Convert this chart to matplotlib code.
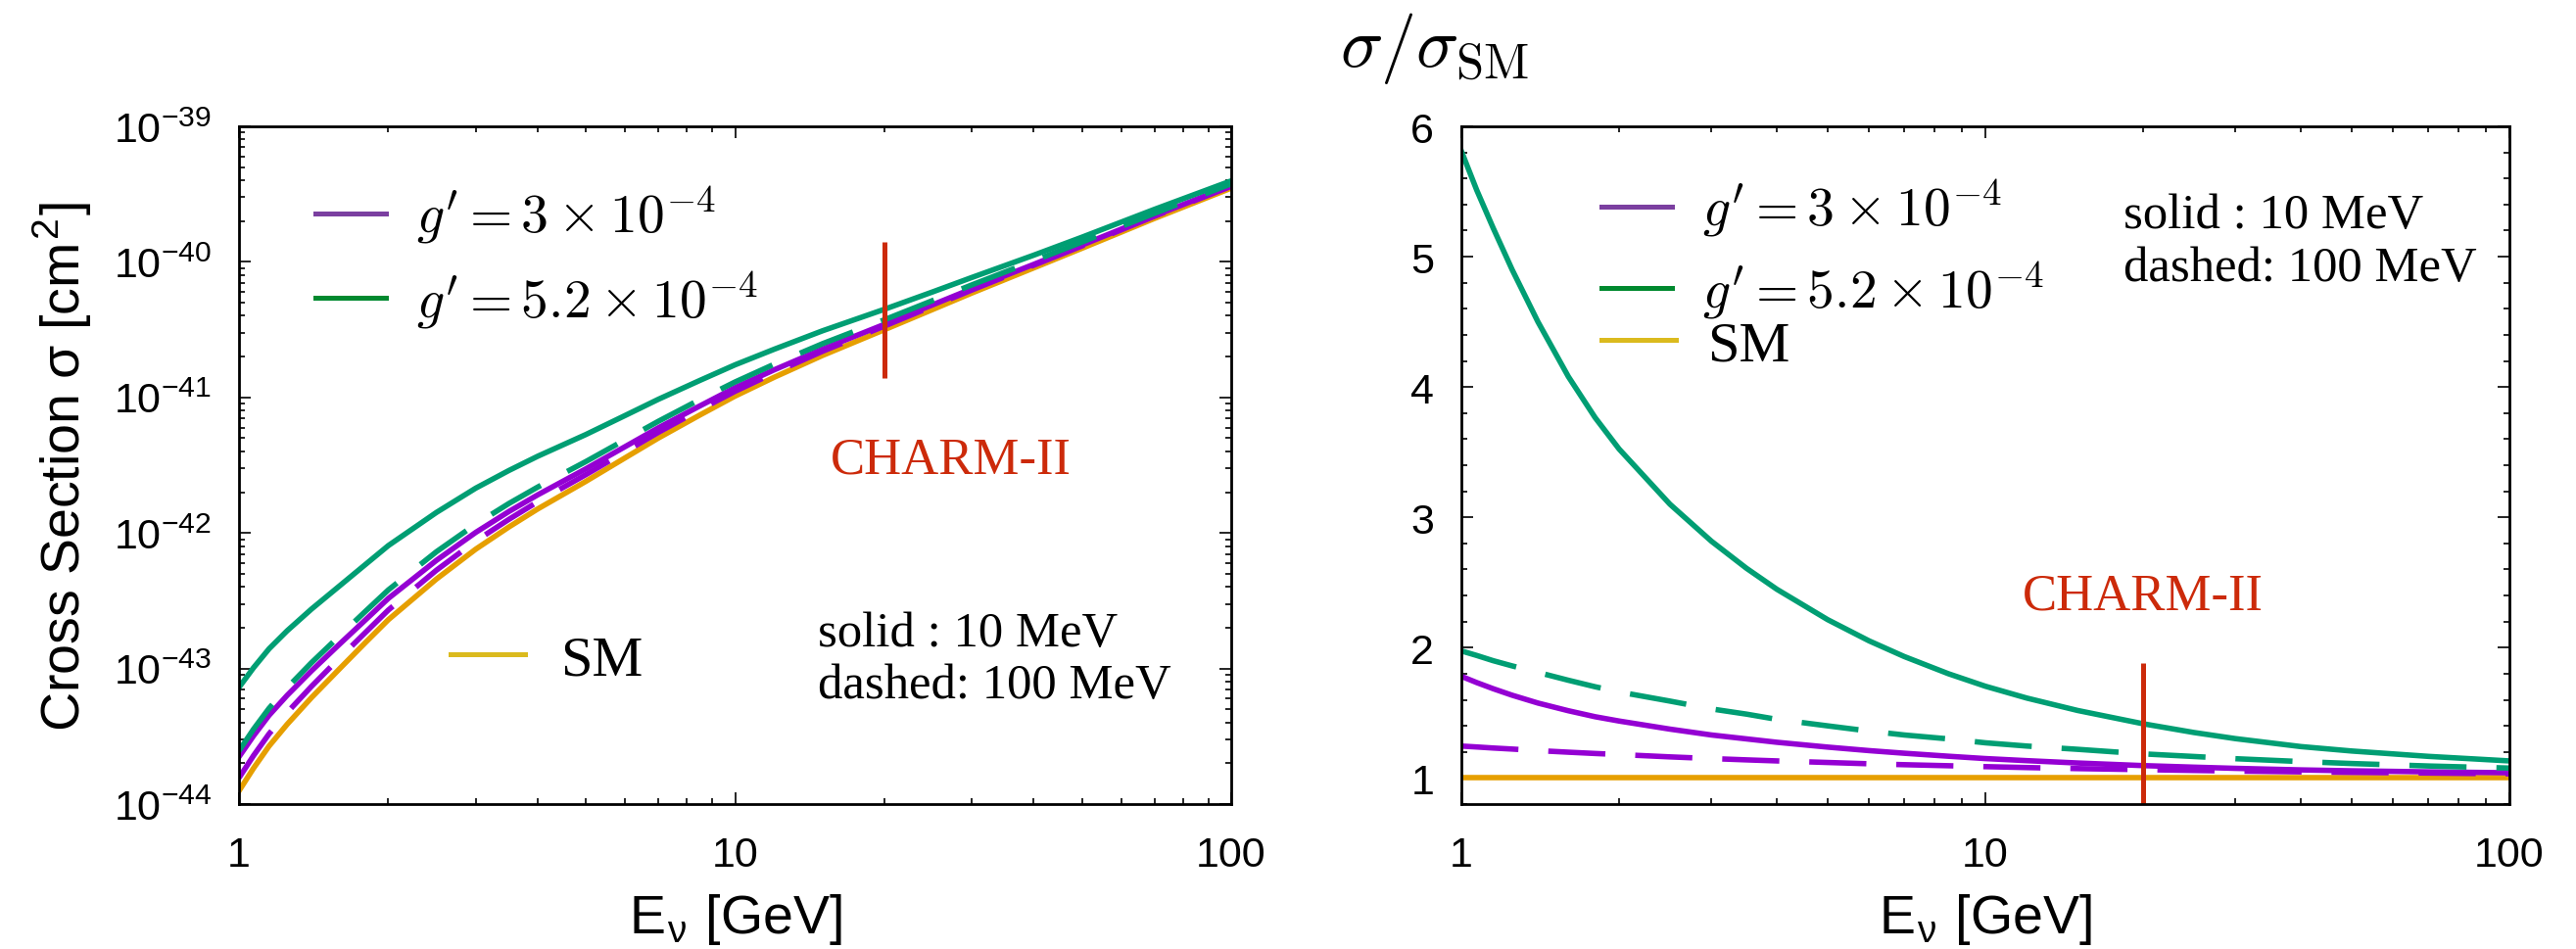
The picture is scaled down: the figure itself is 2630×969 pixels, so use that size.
import matplotlib
matplotlib.use('Agg')
import matplotlib.pyplot as plt
from matplotlib.lines import Line2D
from matplotlib.ticker import LogLocator, NullFormatter, MultipleLocator

# ---------------- data ----------------
E_gev = [1, 1.07, 1.15, 1.25, 1.4, 1.6, 1.8, 2, 2.5, 3, 3.5, 4, 5, 6, 7, 8.5,
         10, 12, 15, 20, 25, 30, 40, 50, 70, 100]

# left panel: cross sections [cm^2]
sigma_sm = [1.25e-44, 1.84e-44, 2.68e-44, 3.87e-44, 6.10e-44, 1.007e-43, 1.56e-43, 2.29e-43,
            4.57e-43, 7.59e-43, 1.107e-42, 1.503e-42, 2.40e-42, 3.58e-42, 5.01e-42, 7.43e-42,
            1.023e-41, 1.41e-41, 2.04e-41, 3.16e-41, 4.45e-41, 5.89e-41, 9.03e-41, 1.259e-40,
            2.09e-40, 3.50e-40]
sigma_g3_10mev = [2.23e-44, 3.19e-44, 4.52e-44, 6.33e-44, 9.61e-44, 1.53e-43, 2.29e-43, 3.29e-43,
                  6.28e-43, 1.009e-42, 1.44e-42, 1.91e-42, 2.97e-42, 4.33e-42, 5.96e-42, 8.67e-42,
                  1.18e-41, 1.60e-41, 2.27e-41, 3.46e-41, 4.82e-41, 6.33e-41, 9.59e-41, 1.33e-40,
                  2.19e-40, 3.64e-40]
sigma_g3_100mev = [1.56e-44, 2.28e-44, 3.30e-44, 4.73e-44, 7.38e-44, 1.21e-43, 1.85e-43, 2.70e-43,
                   5.31e-43, 8.72e-43, 1.26e-42, 1.70e-42, 2.69e-42, 3.97e-42, 5.52e-42, 8.13e-42,
                   1.11e-41, 1.52e-41, 2.19e-41, 3.36e-41, 4.71e-41, 6.20e-41, 9.45e-41, 1.31e-40,
                   2.17e-40, 3.61e-40]
sigma_g52_10mev = [7.26e-44, 1.014e-43, 1.399e-43, 1.896e-43, 2.745e-43, 4.11e-43, 5.87e-43, 8.07e-43,
                   1.417e-42, 2.14e-42, 2.89e-42, 3.68e-42, 5.32e-42, 7.35e-42, 9.68e-42, 1.337e-41,
                   1.74e-41, 2.27e-41, 3.10e-41, 4.47e-41, 6.00e-41, 7.67e-41, 1.121e-40, 1.52e-40,
                   2.44e-40, 3.96e-40]
sigma_g52_100mev = [2.47e-44, 3.57e-44, 5.09e-44, 7.20e-44, 1.104e-43, 1.76e-43, 2.65e-43, 3.80e-43,
                    7.27e-43, 1.161e-42, 1.65e-42, 2.18e-42, 3.36e-42, 4.87e-42, 6.66e-42, 9.66e-42,
                    1.30e-41, 1.76e-41, 2.49e-41, 3.74e-41, 5.18e-41, 6.76e-41, 1.017e-40, 1.40e-40,
                    2.28e-40, 3.77e-40]

# right panel: sigma / sigma_SM
ratio_sm = [1] * 26
ratio_g3_10mev = [1.78, 1.732, 1.685, 1.635, 1.575, 1.516, 1.47, 1.437, 1.375, 1.33, 1.30, 1.274,
                  1.237, 1.21, 1.19, 1.167, 1.149, 1.133, 1.115, 1.095, 1.083, 1.074, 1.062, 1.055,
                  1.047, 1.04]
ratio_g3_100mev = [1.245, 1.238, 1.230, 1.222, 1.210, 1.198, 1.188, 1.18, 1.162, 1.149, 1.139, 1.131,
                   1.119, 1.109, 1.102, 1.094, 1.087, 1.080, 1.072, 1.064, 1.058, 1.053, 1.047, 1.043,
                   1.038, 1.032]
ratio_g52_10mev = [5.81, 5.51, 5.22, 4.90, 4.50, 4.08, 3.765, 3.524, 3.101, 2.817, 2.609, 2.448,
                   2.215, 2.052, 1.932, 1.80, 1.704, 1.613, 1.518, 1.416, 1.349, 1.302, 1.241, 1.207,
                   1.166, 1.131]
ratio_g52_100mev = [1.975, 1.94, 1.90, 1.86, 1.81, 1.75, 1.70, 1.66, 1.59, 1.53, 1.49, 1.45,
                    1.40, 1.36, 1.33, 1.30, 1.27, 1.245, 1.22, 1.185, 1.165, 1.148, 1.126, 1.111,
                    1.092, 1.076]

# CHARM-II marker
charm_energy = [20, 20]
charm_sigma_range = [1.4e-41, 1.4e-40]
charm_ratio_range = [0.8, 1.885]
charm_label = 'CHARM-II'
charm_label_left = (27.2, 2.78e-42)
charm_label_right = (20, 2.30)

legend_labels = [r"$g' = 3 \times 10^{-4}$", r"$g' = 5.2 \times 10^{-4}$", 'SM']
note_lines = ['solid : 10 MeV', 'dashed: 100 MeV']

xticks = [1, 10, 100]
xtick_labels = ['1', '10', '100']
yticks_left = [1e-44, 1e-43, 1e-42, 1e-41, 1e-40, 1e-39]
ytick_left_labels = [r'$\mathregular{10^{-44}}$', r'$\mathregular{10^{-43}}$', r'$\mathregular{10^{-42}}$',
                     r'$\mathregular{10^{-41}}$', r'$\mathregular{10^{-40}}$', r'$\mathregular{10^{-39}}$']
yticks_right = [1, 2, 3, 4, 5, 6]
ytick_right_labels = ['1', '2', '3', '4', '5', '6']

# ---------------- style ----------------
plt.rcParams['font.family'] = ['Liberation Sans', 'DejaVu Sans']
plt.rcParams['mathtext.fontset'] = 'cm'

C_PURPLE = '#9400D3'
C_GREEN = '#009E73'
C_ORANGE = '#E69F00'
C_RED = '#CC2A0A'
L_PURPLE = '#7B3FA0'
L_GREEN = '#00892F'
L_YELLOW = '#DBBA1E'

LW = 4.0
DASH = (10.5, 5.5)
SERIF = ['Liberation Serif', 'DejaVu Serif']

fig = plt.figure(figsize=(26.3, 9.7), dpi=100)
axL = fig.add_axes([244 / 2630, 148 / 970, 1013 / 2630, 692 / 970])
axR = fig.add_axes([1492 / 2630, 148 / 970, 1070 / 2630, 692 / 970])


def style_axes(ax):
    for s in ax.spines.values():
        s.set_linewidth(2.0)
    ax.tick_params(which='both', direction='in', top=True, right=True, width=1.2)
    ax.tick_params(which='major', length=8.5, labelsize=31)
    ax.tick_params(which='minor', length=4.0)
    ax.tick_params(axis='x', which='major', pad=23)
    ax.tick_params(axis='y', which='major', pad=20)
    ax.set_xscale('log')
    ax.set_xlim(1, 100)
    ax.set_xticks(xticks, labels=xtick_labels)
    ax.xaxis.set_minor_locator(LogLocator(base=10, subs=range(2, 10), numticks=20))
    ax.xaxis.set_minor_formatter(NullFormatter())
    ax.set_xlabel(r'E$_\mathregular{ν}$ [GeV]', fontsize=40, labelpad=12)


h_purple = Line2D([], [], color=L_PURPLE, lw=3.6)
h_green = Line2D([], [], color=L_GREEN, lw=3.6)
h_sm = Line2D([], [], color=L_YELLOW, lw=3.6)

# ---------------- left panel ----------------
style_axes(axL)
axL.set_yscale('log')
axL.set_ylim(1e-44, 1e-39)
axL.set_yticks(yticks_left, labels=ytick_left_labels)
axL.yaxis.set_minor_locator(LogLocator(base=10, subs=range(2, 10), numticks=20))
axL.yaxis.set_minor_formatter(NullFormatter())
axL.set_ylabel(r'Cross Section σ [cm$^\mathregular{2}$]', fontsize=40, labelpad=14)

axL.plot(E_gev, sigma_sm, color=C_ORANGE, lw=LW)
axL.plot(E_gev, sigma_g3_100mev, color=C_PURPLE, lw=LW, dashes=DASH)
axL.plot(E_gev, sigma_g3_10mev, color=C_PURPLE, lw=LW)
axL.plot(E_gev, sigma_g52_100mev, color=C_GREEN, lw=LW, dashes=DASH)
axL.plot(E_gev, sigma_g52_10mev, color=C_GREEN, lw=LW)
axL.plot(charm_energy, charm_sigma_range, color=C_RED, lw=3.6, solid_capstyle='butt')
axL.text(charm_label_left[0], charm_label_left[1], charm_label, color=C_RED, fontsize=38,
         family=SERIF, ha='center', va='baseline')

legL = axL.legend([h_purple, h_green], legend_labels[:2], loc='upper left',
                  bbox_to_anchor=(0.077, 0.915), frameon=False, borderpad=0, borderaxespad=0,
                  handlelength=1.3, handletextpad=0.56, labelspacing=0.42,
                  prop={'family': SERIF, 'size': 40})
axL.add_artist(legL)
axL.legend([h_sm], legend_labels[2:], loc='upper left',
           bbox_to_anchor=(0.213, 0.251), frameon=False, borderpad=0, borderaxespad=0,
           handlelength=1.3, handletextpad=0.62, prop={'family': SERIF, 'size': 42})

axL.text(0.5834, 0.2341, note_lines[0], transform=axL.transAxes, fontsize=36.5,
         family=SERIF, ha='left', va='baseline')
axL.text(0.5834, 0.1575, note_lines[1], transform=axL.transAxes, fontsize=36.5,
         family=SERIF, ha='left', va='baseline')

# ---------------- right panel ----------------
style_axes(axR)
axR.set_ylim(0.8, 6)
axR.set_yticks(yticks_right, labels=ytick_right_labels)
axR.yaxis.set_minor_locator(MultipleLocator(0.2))

axR.plot(E_gev, ratio_sm, color=C_ORANGE, lw=LW)
axR.plot(E_gev, ratio_g3_100mev, color=C_PURPLE, lw=LW, dashes=DASH)
axR.plot(E_gev, ratio_g3_10mev, color=C_PURPLE, lw=LW)
axR.plot(E_gev, ratio_g52_100mev, color=C_GREEN, lw=LW, dashes=DASH)
axR.plot(E_gev, ratio_g52_10mev, color=C_GREEN, lw=LW)
axR.plot(charm_energy, charm_ratio_range, color=C_RED, lw=3.6, solid_capstyle='butt')
axR.text(charm_label_right[0], charm_label_right[1], charm_label, color=C_RED, fontsize=38,
         family=SERIF, ha='center', va='baseline')

legR = axR.legend([h_purple, h_green], legend_labels[:2], loc='upper left',
                  bbox_to_anchor=(0.1336, 0.925), frameon=False, borderpad=0, borderaxespad=0,
                  handlelength=1.3, handletextpad=0.56, labelspacing=0.36,
                  prop={'family': SERIF, 'size': 40})
axR.add_artist(legR)
axR.legend([h_sm], legend_labels[2:], loc='upper left',
           bbox_to_anchor=(0.1336, 0.714), frameon=False, borderpad=0, borderaxespad=0,
           handlelength=1.3, handletextpad=0.56, prop={'family': SERIF, 'size': 42})

axR.text(0.6318, 0.8512, note_lines[0], transform=axR.transAxes, fontsize=36.5,
         family=SERIF, ha='left', va='baseline')
axR.text(0.6318, 0.7731, note_lines[1], transform=axR.transAxes, fontsize=36.5,
         family=SERIF, ha='left', va='baseline')

fig.text(1368 / 2630, 1 - 68 / 970, r'$\sigma/\sigma_{\rm SM}$', fontsize=52,
         ha='left', va='baseline')

fig.savefig('out.png', dpi=100)
